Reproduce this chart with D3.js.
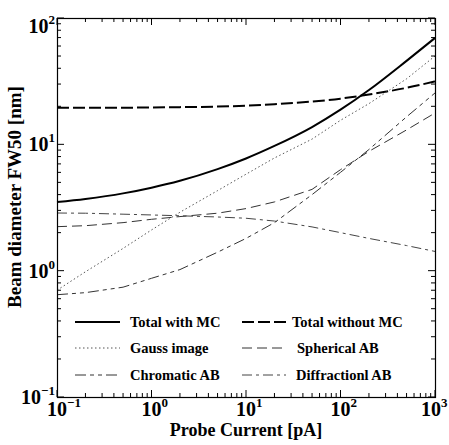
<!DOCTYPE html>
<html>
<head>
<meta charset="utf-8">
<script src="https://cdn.jsdelivr.net/npm/d3@7"></script>
<style>
  body { margin: 0; background: #fff; }
  svg { display: block; }
  text { font-family: "Liberation Serif", "Times New Roman", serif; font-weight: bold; fill: #000; }
</style>
</head>
<body>
<script>

// probe current [pA] at which the beam diameters were computed
var currents = [0.1, 0.2, 0.5, 1, 2, 5, 10, 20, 50, 100, 200, 500, 1000];

// beam diameter FW50 [nm] for each contribution
var totalWithMC    = [3.5, 3.7, 4.09, 4.54, 5.15, 6.37, 7.73, 9.71, 13.7, 18.8, 26.9, 45.8, 69.5];
var totalWithoutMC = [19.5, 19.5, 19.5, 19.6, 19.7, 19.9, 20.2, 20.8, 21.8, 23, 24.8, 28, 31.5];
var gaussImage     = [0.7, 0.98, 1.5, 2.1, 2.9, 4.3, 5.8, 7.8, 11, 15.5, 21, 33, 50];
var sphericalAB    = [2.23, 2.27, 2.4, 2.55, 2.68, 2.85, 3.1, 3.5, 4.4, 6.3, 8.8, 13, 17.7];
var chromaticAB    = [0.645, 0.67, 0.74, 0.87, 1.02, 1.4, 1.8, 2.4, 4.0, 6.0, 9.1, 16.5, 25.5];
var diffractionAB  = [2.86, 2.85, 2.8, 2.76, 2.72, 2.66, 2.6, 2.47, 2.22, 2.0, 1.8, 1.58, 1.42];

var seriesNames = ['Total with MC', 'Total without MC', 'Gauss image',
                   'Spherical AB', 'Chromatic AB', 'Diffractionl AB'];

// decade exponents shown as tick labels
var xExponents = ['-1', '0', '1', '2', '3'];
var yExponents = ['-1', '0', '1', '2'];

var width = 449, height = 445;
var margin = {left: 57, right: 14, top: 18, bottom: 48};

var svg = d3.select('body').append('svg')
    .attr('width', width)
    .attr('height', height);

var x = d3.scaleLog()
    .domain([0.1, 1000])
    .range([margin.left, width - margin.right]);
var y = d3.scaleLog()
    .domain([0.1, 100])
    .range([height - margin.bottom, margin.top]);

/*
 * line styles: [values, dasharray, stroke width, colour]
 * the two totals are heavy black, the single contributions thin grey
 */
var styles = [
    [totalWithMC,    null,              2,   '#000'],
    [totalWithoutMC, '12,4',            2,   '#000'],
    [gaussImage,     '1.5,2.5',         1,   '#555'],
    [sphericalAB,    '10,5',            1,   '#333'],
    [chromaticAB,    '11,4,4,4,4,4',    1,   '#333'],
    [diffractionAB,  '10,4,3,4',        1,   '#444']
];

var line = d3.line()
    .x(function(d) { return x(d[0]); })
    .y(function(d) { return y(d[1]); });

var plot = svg.append('g').attr('class', 'plot');

styles.forEach(function(s, i) {
    var pts = currents.map(function(c, j) { return [c, s[0][j]]; });
    plot.append('path')
        .datum(pts)
        .attr('d', i < 2 ? line.curve(d3.curveMonotoneX)(pts) : line.curve(d3.curveLinear)(pts))
        .attr('fill', 'none')
        .attr('stroke', s[3])
        .attr('stroke-width', s[2])
        .attr('stroke-dasharray', s[1]);
});

// axes with inward ticks on all four sides, no labels (drawn separately)
function tickSize(d) {
    var l = Math.log10(d);
    return Math.abs(l - Math.round(l)) < 1e-9 ? 7 : 4;
}

function drawTicks(scale, orient) {
    var ticks = scale.ticks();
    var g = svg.append('g');
    ticks.forEach(function(t) {
        var len = tickSize(t);
        var p = scale(t);
        var l = g.append('line').attr('stroke', '#000').attr('stroke-width', 1);
        if (orient == 'bottom')
            l.attr('x1', p).attr('x2', p).attr('y1', y.range()[0]).attr('y2', y.range()[0] - len);
        else if (orient == 'top')
            l.attr('x1', p).attr('x2', p).attr('y1', y.range()[1]).attr('y2', y.range()[1] + len);
        else if (orient == 'left')
            l.attr('y1', p).attr('y2', p).attr('x1', x.range()[0]).attr('x2', x.range()[0] + len);
        else
            l.attr('y1', p).attr('y2', p).attr('x1', x.range()[1]).attr('x2', x.range()[1] - len);
    });
}
drawTicks(x, 'bottom');
drawTicks(x, 'top');
drawTicks(y, 'left');
drawTicks(y, 'right');

// frame
svg.append('rect')
    .attr('x', x.range()[0] + 0.5)
    .attr('y', y.range()[1] + 0.5)
    .attr('width', x.range()[1] - x.range()[0])
    .attr('height', y.range()[0] - y.range()[1])
    .attr('fill', 'none')
    .attr('stroke', '#000')
    .attr('stroke-width', 1.2);

// tick labels as 10 with superscript exponent
xExponents.forEach(function(e) {
    var px = x(Math.pow(10, +e));
    // last label is pulled in so its exponent stays on the page
    if (e == '3') px -= 4;
    svg.append('text')
        .attr('x', px)
        .attr('y', 416)
        .attr('text-anchor', 'middle')
        .style('font-size', '20px')
        .text('10');
    svg.append('text')
        .attr('x', px + 10)
        .attr('y', 407)
        .style('font-size', '13px')
        .text(e == '-1' ? '\u22121' : e);
});

yExponents.forEach(function(e) {
    var py = y(Math.pow(10, +e));
    // the top label sits lower so it stays inside the figure
    if (e == '2') py += 8;
    var t = svg.append('text')
        .attr('x', 55)
        .attr('y', py + 7)
        .attr('text-anchor', 'end');
    t.append('tspan').style('font-size', '20px').text('10');
    t.append('tspan').attr('dy', -9).style('font-size', '13px').text(e == '-1' ? '\u22121' : e);
});

// axis titles
svg.append('text')
    .attr('x', 246)
    .attr('y', 436)
    .attr('text-anchor', 'middle')
    .style('font-size', '18px')
    .text('Probe Current [pA]');

svg.append('text')
    .attr('transform', 'translate(21,197) rotate(-90)')
    .attr('text-anchor', 'middle')
    .style('font-size', '19px')
    .text('Beam diameter FW50 [nm]');

// legend, two columns of three rows
var legendRows = [322, 348, 375];
var legendCols = [{x1: 75, x2: 120, tx: 130}, {x1: 242, x2: 286, tx: 292}];
var textShift = [0, 0, 0, 5, 0, 4];
var legendOrder = [0, 2, 4, 1, 3, 5];

legendOrder.forEach(function(k, i) {
    var col = legendCols[Math.floor(i / 3)];
    var ry = legendRows[i % 3];
    var s = styles[k];
    svg.append('line')
        .attr('x1', col.x1).attr('x2', col.x2)
        .attr('y1', ry).attr('y2', ry)
        .attr('stroke', s[3])
        .attr('stroke-width', s[2])
        .attr('stroke-dasharray', s[1]);
    svg.append('text')
        .attr('x', col.tx + textShift[k])
        .attr('y', ry + 5)
        .style('font-size', '14.5px')
        .text(seriesNames[k]);
});

</script>
</body>
</html>
